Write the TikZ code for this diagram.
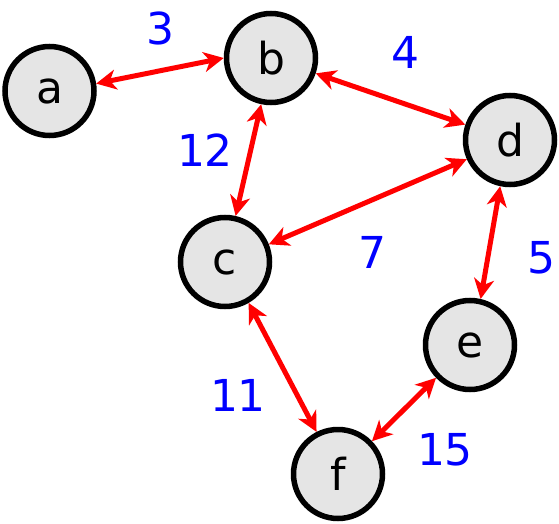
\documentclass[tikz,border=0pt]{standalone}
\usepackage{fontspec}
\setmainfont{DejaVu Sans}
\usetikzlibrary{arrows.meta}
\definecolor{nodegray}{RGB}{229,229,229}
\begin{document}
\begin{tikzpicture}[x=1pt,y=-1pt,
  vert/.style={circle,draw=black,fill=nodegray,line width=5.5pt,minimum size=89pt,inner sep=0pt,font=\fontsize{44}{44}\selectfont},
  edge/.style={draw=red,line width=5pt,{Stealth[length=20pt,width=20pt,inset=6pt]}-{Stealth[length=20pt,width=20pt,inset=6pt]}},
  wlabel/.style={text=blue,font=\fontsize{44}{44}\selectfont,inner sep=0pt}]
\useasboundingbox (0,0) rectangle (559,524);
\node[vert] (a) at (49.5,91) {a};
\node[vert] (b) at (271,58) {b};
\node[vert] (d) at (510,140) {d};
\node[vert] (c) at (225,262) {c};
\node[vert] (e) at (470,345) {e};
\node[vert] (f) at (338,474) {f};
\path[edge] (a.9) -- (b.180);
\path[edge] (b.-19) -- (d.161);
\path[edge] (b.-102) -- (c.77);
\path[edge] (c.22) -- (d.-156);
\path[edge] (d.-102) -- (e.77);
\path[edge] (c.-60) -- (f.117);
\path[edge] (e.-136) -- (f.44);
\node[wlabel] (l3) at (160,28) {3};
\node[wlabel] (l4) at (405,52) {4};
\node[wlabel] (l12) at (205,150) {12};
\node[wlabel] (l7) at (372,252) {7};
\node[wlabel] (l5) at (541,258) {5};
\node[wlabel] (l11) at (238,395) {11};
\node[wlabel] (l15) at (445,450) {15};
\end{tikzpicture}
\end{document}
